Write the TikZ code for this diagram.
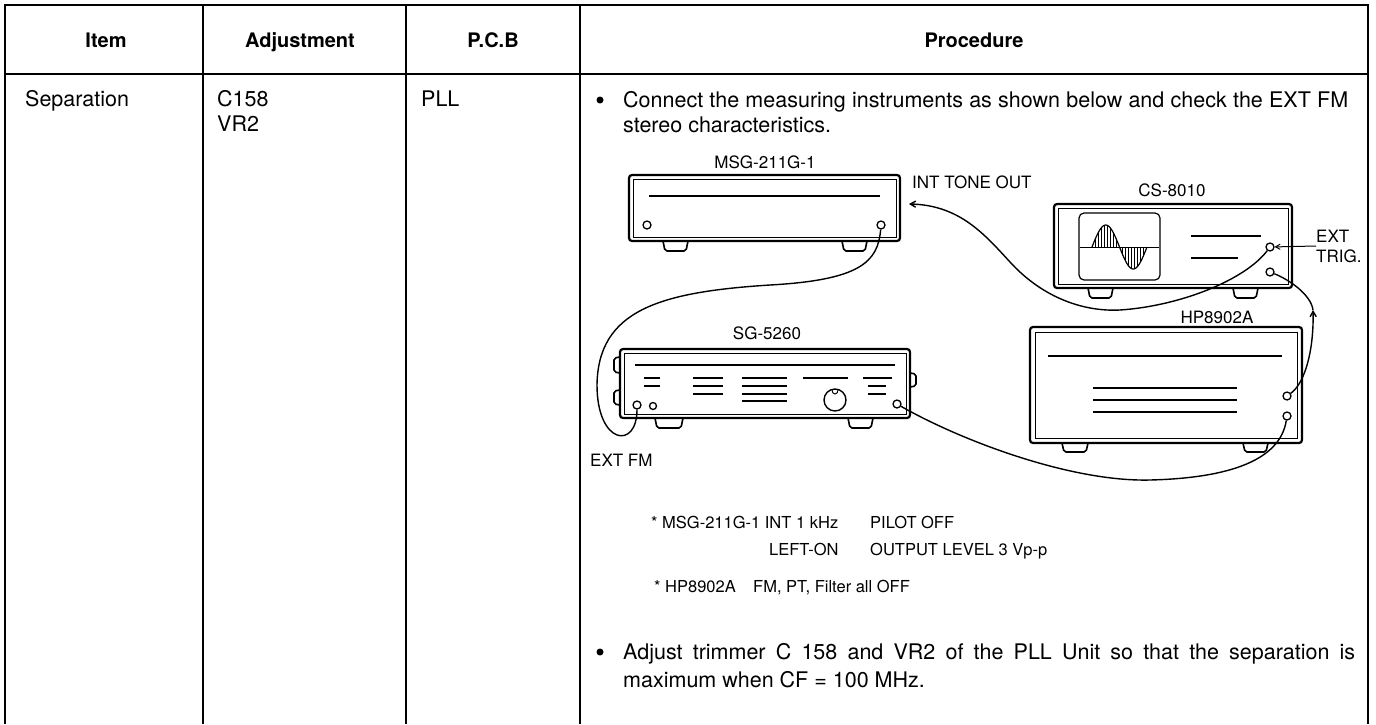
\documentclass[tikz,border=0pt]{standalone}
\usepackage{fontspec}
\setmainfont{TeX Gyre Heros}
\usetikzlibrary{patterns, positioning, arrows}

\begin{document}
\begin{tikzpicture}[x=1pt, y=-1pt, >=angle 60,
    grid/.style={line width=1.8pt},
    head/.style={inner sep=0pt, anchor=base, font=\fontsize{20}{24}\selectfont\bfseries},
    body/.style={anchor=base west, inner sep=0pt, font=\fontsize{21.5}{25}\selectfont},
    note/.style={anchor=base west, inner sep=0pt, font=\fontsize{16.5}{20}\selectfont},
    label/.style={inner sep=0pt, font=\fontsize{17}{20}\selectfont},
    dot/.style={circle, fill, minimum size=7pt, inner sep=0pt},
    case/.style={line width=2.2pt, rounded corners=3pt},
    panel/.style={line width=0.8pt},
    foot/.style={line width=1.6pt, rounded corners=2pt},
    jack/.style={circle, draw, line width=1.3pt, minimum size=8pt, inner sep=0pt},
    cable/.style={line width=1.4pt}]

    \useasboundingbox (0,0) rectangle (1376,724);

    % table
    \draw[grid] (5,724) -- (5,5) -- (1368,5) -- (1368,724);
    \draw[grid] (5,74) -- (1368,74);
    \draw[grid] (203,5) -- (203,724);
    \draw[grid] (406,5) -- (406,724);
    \draw[grid] (580,5) -- (580,724);

    \node[head] (hitem) at (106,47) {Item};
    \node[head] (hadj) at (300,47) {Adjustment};
    \node[head] (hpcb) at (493,47) {P.C.B};
    \node[head] (hproc) at (974,47) {Procedure};

    \node[body] (item) at (25,106) {Separation};
    \node[body] (adj1) at (217,106) {C158};
    \node[body] (adj2) at (217,131) {VR2};
    \node[body] (pcb) at (421,106) {PLL};

    \node[dot] (bul1) at (600,100) {};
    \node[body] (conn1) at (623,107) {\makebox[725pt][s]{Connect the measuring instruments as shown below and check the EXT FM}};
    \node[body] (conn2) at (623,132) {stereo characteristics.};

    % MSG-211G-1
    \node[label] (msg) at (765,162) {MSG-211G-1};
    \draw[case] (629,175) rectangle (900,241);
    \draw[panel] (633,179) rectangle (896,237);
    \draw[line width=1.2pt] (649,196) -- (880,196);
    \node[jack] (msgL) at (647,225) {};
    \node[jack] (msgR) at (881,225) {};
    \draw[foot] (663,241) -- (665,251) -- (686,251) -- (688,241);
    \draw[foot] (842,241) -- (844,251) -- (865,251) -- (867,241);
    \node[label, anchor=base west] (tone) at (912,188) {INT TONE OUT};
    \coordinate (toneend) at (909,204);

    % CS-8010
    \node[label] (cs) at (1172,190) {CS-8010};
    \draw[case] (1054,204) rectangle (1292,288);
    \draw[panel] (1058,208) rectangle (1288,284);
    \draw[line width=1.2pt, rounded corners=5pt] (1079,213) rectangle (1160,280);
    \draw[line width=1pt] (1080,247) -- (1159,247);
    \fill[pattern=vertical lines] plot[domain=0:360, samples=50] ({1092+\x/6.545}, {247-22*sin(\x)}) -- cycle;
    \draw[line width=1.2pt] plot[domain=0:360, samples=50] ({1092+\x/6.545}, {247-22*sin(\x)});
    \draw[line width=1.2pt] (1191,236) -- (1261,236);
    \draw[line width=1.2pt] (1191,258) -- (1238,258);
    \node[jack] (cstrig) at (1270,247) {};
    \node[jack] (cslo) at (1270,272) {};
    \draw[foot] (1088,288) -- (1090,298) -- (1111,298) -- (1113,288);
    \draw[foot] (1233,288) -- (1235,298) -- (1256,298) -- (1258,288);
    \node[label, anchor=west, align=left] (trig) at (1316,246) {EXT\\TRIG.};
    \draw[line width=1pt, ->] (trig.west) -- (cstrig);

    % SG-5260
    \node[label] (sg) at (767,333) {SG-5260};
    \draw[case] (620,349) rectangle (910,418);
    \draw[panel] (624,353) rectangle (906,414);
    \draw[foot] (620,357) -- (614,358) -- (614,372) -- (620,373);
    \draw[foot] (620,390) -- (614,391) -- (614,404) -- (620,405);
    \draw[foot] (910,373) -- (916,374) -- (916,386) -- (910,387);
    \draw[line width=1.2pt] (635,365) -- (895,365);
    \draw[line width=1.2pt] (644,378) -- (660,378) (644,386) -- (660,386);
    \draw[line width=1.2pt] (693,378) -- (723,378) (693,386) -- (723,386) (693,394) -- (723,394);
    \draw[line width=1.2pt] (742,378) -- (787,378) (742,386) -- (787,386) (742,394) -- (787,394) (742,401) -- (787,401);
    \draw[line width=1.2pt] (803,378) -- (848,378);
    \draw[line width=1.2pt] (863,378) -- (892,378) (868,386) -- (886,386) (868,394) -- (886,394);
    \draw[line width=1.4pt] (835,400) circle (11);
    \draw[line width=1pt] (832,390) arc (180:0:3 and 4);
    \node[jack] (sgfm) at (637,405) {};
    \node[jack, minimum size=7pt] (sgaux) at (653,406) {};
    \node[jack] (sgout) at (897,404) {};
    \draw[foot] (655,418) -- (657,428) -- (681,428) -- (683,418);
    \draw[foot] (848,418) -- (850,428) -- (871,428) -- (873,418);
    \node[label, anchor=base west] (extfm) at (590,466) {EXT FM};

    % HP8902A
    \node[label] (hp) at (1217,317) {HP8902A};
    \draw[case] (1030,327) rectangle (1302,443);
    \draw[panel] (1035,332) rectangle (1297,438);
    \draw[line width=1.2pt] (1048,356) -- (1282,356);
    \draw[line width=1.2pt] (1093,388) -- (1237,388) (1093,400) -- (1237,400) (1093,412) -- (1237,412);
    \node[jack] (hpup) at (1287,396) {};
    \node[jack] (hplo) at (1287,416) {};
    \draw[foot] (1062,443) -- (1064,452) -- (1086,452) -- (1088,443);
    \draw[foot] (1243,443) -- (1245,452) -- (1266,452) -- (1268,443);

    % cables
    \draw[cable] (msgR) .. controls (878,262) and (860,280) .. (770,285)
        .. controls (660,292) and (598,310) .. (597,385)
        .. controls (597,445) and (637,450) .. (sgfm);
    \draw[cable] (sgout) .. controls (960,440) and (1070,482) .. (1150,480)
        .. controls (1230,478) and (1280,460) .. (hplo);
    \coordinate (trigmid) at (1313,310);
    \draw[cable, ->] (hpup) .. controls (1305,383) and (1314,350) .. (trigmid);
    \draw[cable] (trigmid) .. controls (1311,295) and (1290,280) .. (cslo);
    \draw[cable, <-] (toneend) .. controls (960,205) and (985,235) .. (1010,262)
        .. controls (1040,295) and (1080,312) .. (1120,310)
        .. controls (1180,306) and (1245,280) .. (cstrig);

    % notes
    \node[note] (n1a) at (651,528) {* MSG-211G-1 INT 1 kHz};
    \node[note] (n1b) at (870,528) {PILOT OFF};
    \node[note] (n2a) at (769,555) {LEFT-ON};
    \node[note] (n2b) at (870,555) {OUTPUT LEVEL 3 Vp-p};
    \node[note] (n3a) at (654,592) {* HP8902A};
    \node[note] (n3b) at (753,592) {FM, PT, Filter all OFF};

    \node[dot] (bul2) at (600,652) {};
    \node[body] (adjust1) at (623,659) {\makebox[732pt][s]{Adjust trimmer C 158 and VR2 of the PLL Unit so that the separation is}};
    \node[body] (adjust2) at (623,687) {maximum when CF = 100 MHz.};
\end{tikzpicture}
\end{document}
